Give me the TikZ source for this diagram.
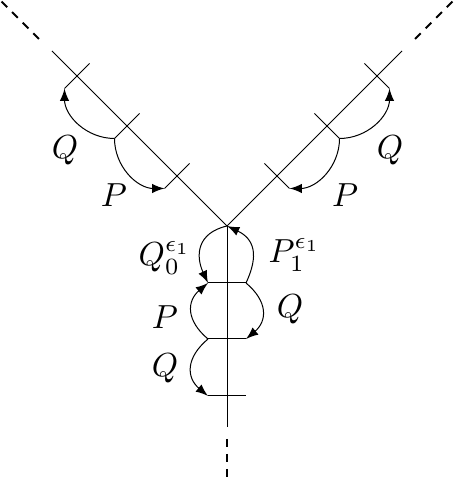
\documentclass[tikz,border=0pt]{standalone}
\usepackage{tikz}
\usetikzlibrary{arrows}
\usepackage{amsfonts}

\begin{document}
\begin{tikzpicture}[x=0.3pt,y=0.3pt,>=latex,
    leg/.style={line width=0.3pt},
    far/.style={line width=0.6pt,dash pattern=on 2.4pt off 2.1pt},
    turn/.style={line width=0.3pt,->},
    lab/.style={inner sep=0pt}]
    \useasboundingbox (0,0) rectangle (454,479);
    \coordinate (o) at (227,253);
    % arms
    \coordinate (le) at (52,428);  \coordinate (lf) at (39,440);  \coordinate (lg) at (0,479);
    \coordinate (re) at (402,428); \coordinate (rf) at (415,440); \coordinate (rg) at (454,479);
    \coordinate (de) at (227,52);  \coordinate (df) at (227,40);  \coordinate (dg) at (227,0);
    \draw[leg] (o) -- (le); \draw[far] (lf) -- (lg);
    \draw[leg] (o) -- (re); \draw[far] (rf) -- (rg);
    \draw[leg] (o) -- (de); \draw[far] (df) -- (dg);
    % ticks
    \foreach \k in {1,2,3} {
      \coordinate (l\k a) at ({227-50*\k-12.5},{253+50*\k-12.5});
      \coordinate (l\k b) at ({227-50*\k+12.5},{253+50*\k+12.5});
      \coordinate (r\k a) at ({227+50*\k+12.5},{253+50*\k-12.5});
      \coordinate (r\k b) at ({227+50*\k-12.5},{253+50*\k+12.5});
      \draw[leg] (l\k a) -- (l\k b);
      \draw[leg] (r\k a) -- (r\k b);
    }
    \draw[turn] (l2a) to[out=180,in=-90] (l3a);
    \draw[turn] (l2a) to[out=-90,in=180] (l1a);
    \draw[turn] (r2a) to[out=0,in=-90] (r3a);
    \draw[turn] (r2a) to[out=-90,in=0] (r1a);
    % bubbles
    \coordinate (h1l) at (208,196); \coordinate (h1r) at (246,196);
    \coordinate (h2l) at (208,140); \coordinate (h2r) at (246,140);
    \coordinate (h3l) at (208,83);  \coordinate (h3r) at (246,83);
    \draw[leg] (h1l) -- (h1r);
    \draw[leg] (h2l) -- (h2r);
    \draw[leg] (h3l) -- (h3r);
    \draw[turn] (o) to[out=193,in=115,looseness=1.3] (h1l);
    \draw[turn] (h1r) to[out=65,in=-25,looseness=1.3] (o);
    \draw[turn] (h2l) to[out=140,in=-140,looseness=1.3] (h1l);
    \draw[turn] (h1r) to[out=-40,in=40,looseness=1.3] (h2r);
    \draw[turn] (h2l) to[out=-140,in=140,looseness=1.3] (h3l);
    % labels
    \node[lab] (ql) at (65,329) {$Q$};
    \node[lab] (pl) at (114,284) {$P$};
    \node[lab] (qr) at (390,329) {$Q$};
    \node[lab] (pr) at (345,284) {$P$};
    \node[lab,anchor=base west] (q0) at (138,213) {$Q_0^{\epsilon_1}$};
    \node[lab,anchor=base west] (p1) at (268,216) {$P_1^{\epsilon_1}$};
    \node[lab] (pm) at (165,162) {$P$};
    \node[lab] (qm) at (290,170) {$Q$};
    \node[lab] (qb) at (165,111) {$Q$};
\end{tikzpicture}
\end{document}
